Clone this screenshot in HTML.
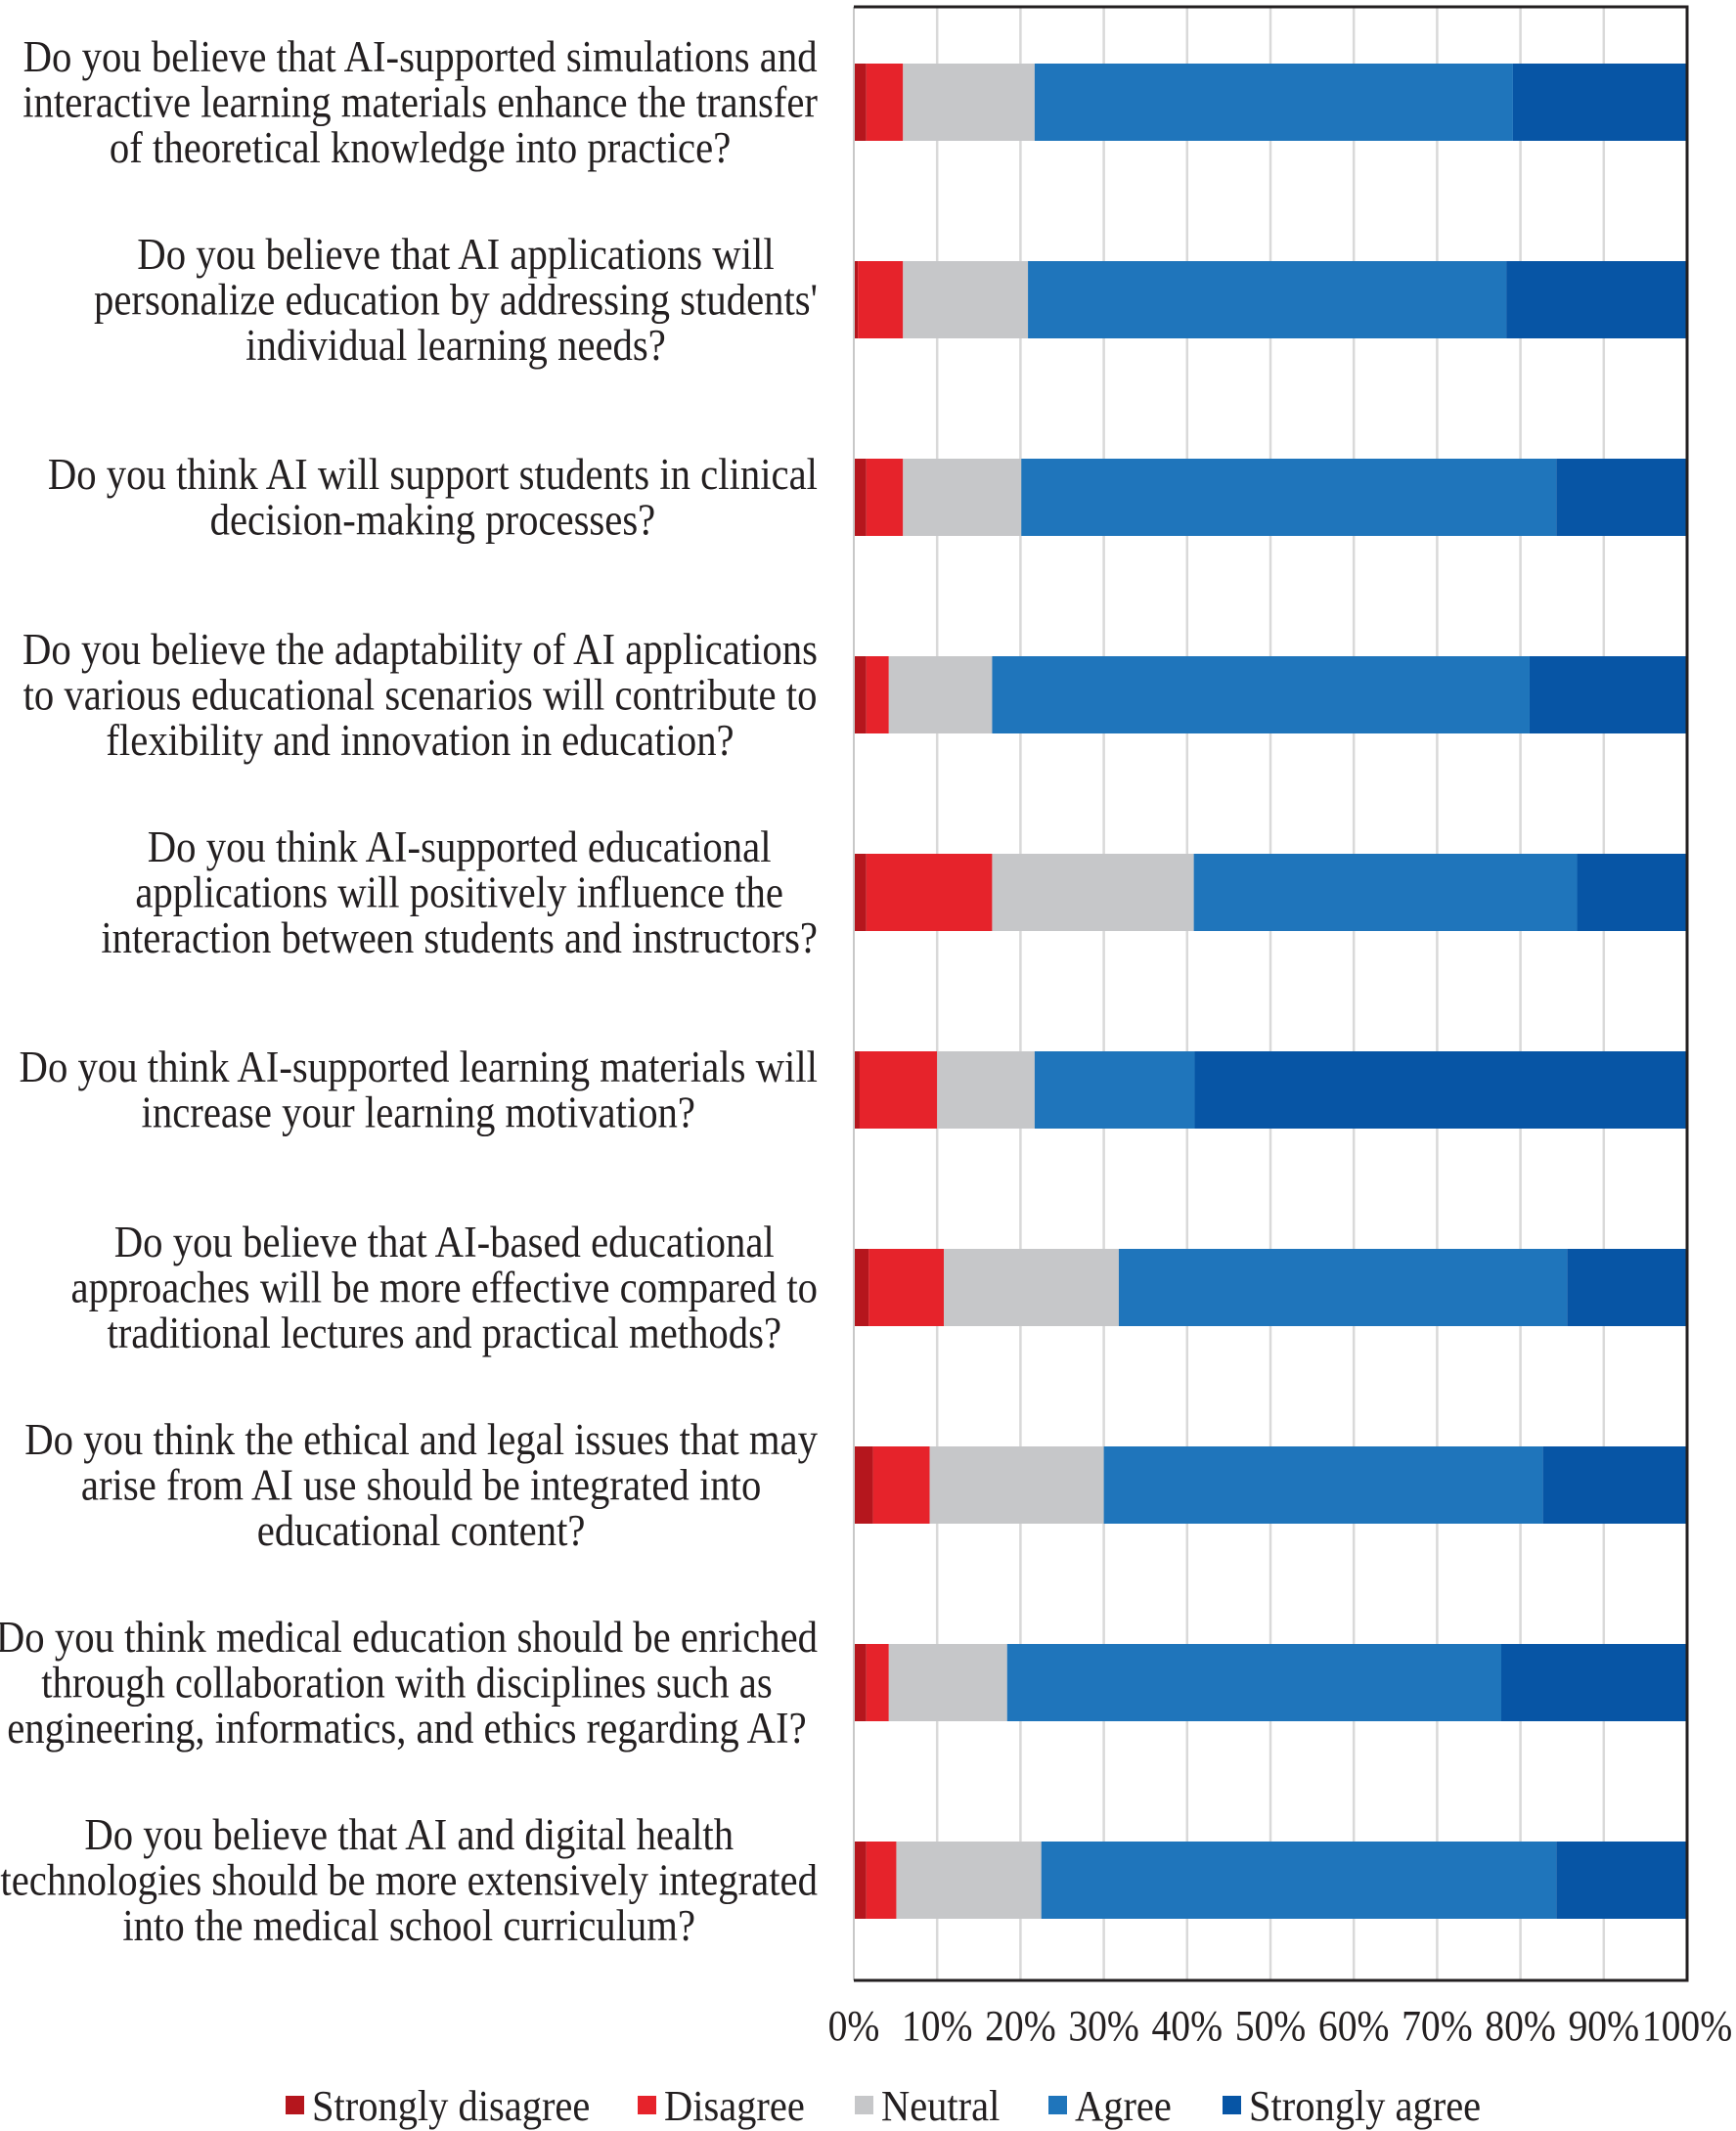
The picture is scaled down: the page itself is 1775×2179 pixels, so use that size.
<!DOCTYPE html>
<html><head><meta charset="utf-8"><style>
html,body{margin:0;padding:0;background:#fff;}
svg{display:block;}
text{font-family:"Liberation Serif",serif;fill:#231f20;}
</style></head><body>
<svg id="chart" width="1775" height="2179" viewBox="0 0 1775 2179" xmlns="http://www.w3.org/2000/svg"></svg>
<script>
const questions = [
 ["Do you believe that AI-supported simulations and","interactive learning materials enhance the transfer","of theoretical knowledge into practice?"],
 ["Do you believe that AI applications will","personalize education by addressing students'","individual learning needs?"],
 ["Do you think AI will support students in clinical","decision-making processes?"],
 ["Do you believe the adaptability of AI applications","to various educational scenarios will contribute to","flexibility and innovation in education?"],
 ["Do you think AI-supported educational","applications will positively influence the","interaction between students and instructors?"],
 ["Do you think AI-supported learning materials will","increase your learning motivation?"],
 ["Do you believe that AI-based educational","approaches will be more effective compared to","traditional lectures and practical methods?"],
 ["Do you think the ethical and legal issues that may","arise from AI use should be integrated into","educational content?"],
 ["Do you think medical education should be enriched","through collaboration with disciplines such as","engineering, informatics, and ethics regarding AI?"],
 ["Do you believe that AI and digital health","technologies should be more extensively integrated","into the medical school curriculum?"]
];
const seriesNames = ["Strongly disagree","Disagree","Neutral","Agree","Strongly agree"];
const stronglyDisagree = [1.5,0.5,1.5,1.5,1.5,0.7,1.8,2.3,1.5,1.5];
const disagree         = [4.4,5.4,4.4,2.7,15.1,9.3,9.0,6.8,2.7,3.6];
const neutral          = [15.8,15.0,14.2,12.4,24.2,11.7,21.0,20.9,14.2,17.4];
const agree            = [57.4,57.4,64.2,64.5,46.0,19.2,53.8,52.7,59.3,61.8];
const stronglyAgree    = [20.9,21.7,15.7,18.9,13.2,59.1,14.4,17.3,22.3,15.7];
const tickLabels = ["0%","10%","20%","30%","40%","50%","60%","70%","80%","90%","100%"];
const colors = ["#b5161d","#e6232b","#c6c7c9","#1f75bb","#0755a5"];

const NS="http://www.w3.org/2000/svg";
const svg=document.getElementById('chart');
const X0=873,X1=1725,Y0=7,Y1=2025,BAR_TOP0=65,STEP=202,BAR_H=79;
const xs=v=>X0+(X1-X0)*v/100;
const yRow=i=>BAR_TOP0+i*STEP;
function el(tag,attrs,parent){const e=document.createElementNS(NS,tag);for(const k in attrs)e.setAttribute(k,attrs[k]);(parent||svg).appendChild(e);return e;}

const grid=el('g',{});


const TS=0.9;
tickLabels.forEach((t,i)=>{
  const v=i*10;
  if(i>0&&i<10){const l=el('line',{x1:xs(v),x2:xs(v),y1:Y0,y2:Y1,stroke:'#d9d9d9','stroke-width':2.5},grid);
  
  }
  const tx=el('text',{x:xs(v)/TS,y:2086,'font-size':44,'text-anchor':'middle',transform:`scale(${TS},1)`});
  tx.textContent=t;
  
  
});
const series=[stronglyDisagree,disagree,neutral,agree,stronglyAgree];
const QS=0.905, RIGHT=836;
questions.forEach((q,i)=>{
  const g=el('g',{});
  
  
  let cum=0;
  series.forEach((s,k)=>{
    const r=el('rect',{x:xs(cum),y:yRow(i),width:xs(cum+s[i])-xs(cum),height:BAR_H,fill:colors[k]},g);
    
    
    cum+=s[i];
  });
  const cy=yRow(i)+BAR_H/2;
  const n=q.length;
  const t=el('text',{'font-size':45,'text-anchor':'middle',transform:`scale(${QS},1)`});
  
  
  const spans=q.map((line,j)=>{
    const ts=el('tspan',{x:431/QS,y:cy+(j-(n-1)/2)*46.5+15},t);
    ts.textContent=line;
    return ts;
  });
  let maxW=0;
  spans.forEach(s=>{maxW=Math.max(maxW,s.getComputedTextLength());});
  const cx=(RIGHT-maxW*QS/2)/QS;
  spans.forEach(s=>s.setAttribute('x',cx));
});
const f1=el('line',{x1:X0,x2:X0,y1:Y0,y2:Y1,stroke:'#c8c8c8','stroke-width':2});


const f2=el('polyline',{points:`${X0},${Y0} ${X1},${Y0} ${X1},${Y1} ${X0},${Y1}`,fill:'none',stroke:'#231f20','stroke-width':3});


const legX=[292,652,874,1072,1250];
const LS=0.92;
seriesNames.forEach((nm,k)=>{
  const g=el('g',{});
  
  
  el('rect',{x:legX[k],y:2143,width:19,height:19,fill:colors[k]},g);
  const t=el('text',{x:(legX[k]+27)/LS,y:2168,'font-size':44,transform:`scale(${LS},1)`},g);
  t.textContent=nm;
});
</script>
</body></html>
